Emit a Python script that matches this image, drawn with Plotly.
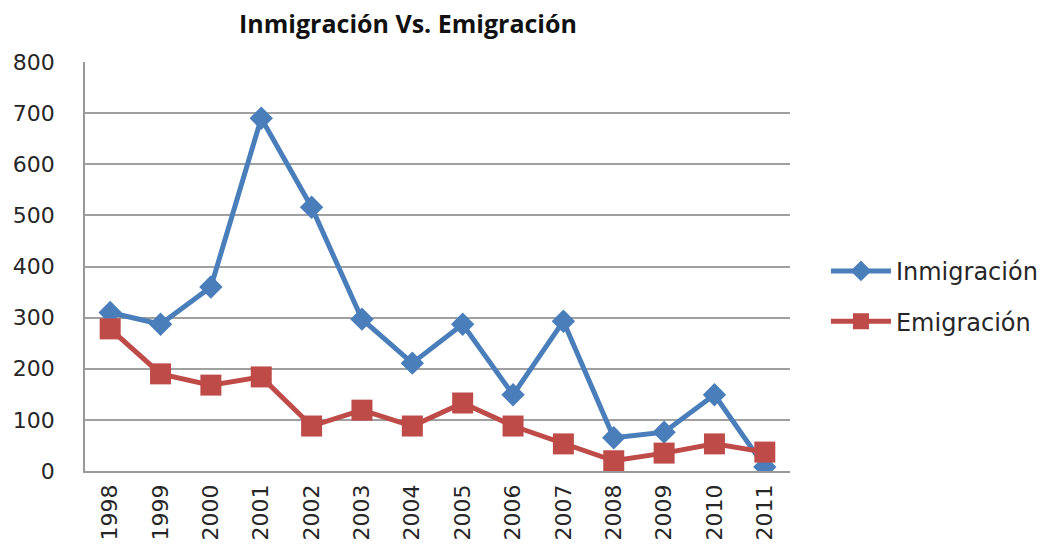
import plotly.graph_objects as go

years = ["1998", "1999", "2000", "2001", "2002", "2003", "2004", "2005",
         "2006", "2007", "2008", "2009", "2010", "2011"]
inmigracion = [310, 287, 360, 690, 516, 297, 211, 287, 149, 293, 65, 76, 149, 8]
emigracion = [278, 190, 168, 184, 88, 119, 88, 133, 88, 53, 20, 35, 53, 37]
y_ticks = [0, 100, 200, 300, 400, 500, 600, 700, 800]

TICKFONT = "DejaVu Sans"
TITLEFONT = "Open Sans"

W, H = 1048, 544

fig = go.Figure()
fig.add_trace(go.Scatter(
    x=years, y=inmigracion, name="Inmigración", mode="lines+markers",
    legendgroup="a",
    line=dict(color="#4A7EBB", width=5),
    marker=dict(symbol="diamond", size=18, color="#4A7EBB"),
))
fig.add_trace(go.Scatter(
    x=years, y=emigracion, name="Emigración", mode="lines+markers",
    legendgroup="b",
    line=dict(color="#BE4B48", width=5),
    marker=dict(symbol="square", size=21, color="#BE4B48"),
))

fig.update_layout(
    width=W, height=H,
    margin=dict(l=85, r=258, t=62, b=73, autoexpand=False),
    paper_bgcolor="white", plot_bgcolor="white",
    font=dict(family=TICKFONT, size=22, color="#262626"),
    title=dict(text="<b>Inmigración Vs. Emigración</b>", x=408 / W, xanchor="center",
               y=1 - 24 / H, yanchor="middle",
               font=dict(family=TITLEFONT, size=25, color="#111111")),
    showlegend=True,
    legend=dict(x=1.051, xanchor="left", y=0.427, yanchor="middle",
                traceorder="grouped",
                font=dict(family=TICKFONT, size=24, color="#262626"),
                bgcolor="rgba(0,0,0,0)", tracegroupgap=16, itemwidth=60),
    xaxis=dict(type="category", range=[-0.5, 13.5], tickangle=-90, automargin=False,
               showgrid=False, showline=True, linecolor="#999999", linewidth=1.5,
               ticks="", tickfont=dict(family=TICKFONT, size=22, color="#262626"),
               ticklabelstandoff=3),
    yaxis=dict(range=[0, 800], tickvals=y_ticks, showgrid=True, automargin=False,
               gridcolor="#A0A0A0", gridwidth=1.5, showline=True,
               linecolor="#999999", linewidth=1.5, ticks="", zeroline=False,
               tickfont=dict(family=TICKFONT, size=22, color="#262626"),
               ticklabelstandoff=24),
)

fig.write_html("out.html",
               config={"displayModeBar": False},
               post_script="document.body.style.margin='0px';document.body.style.padding='0px';")
